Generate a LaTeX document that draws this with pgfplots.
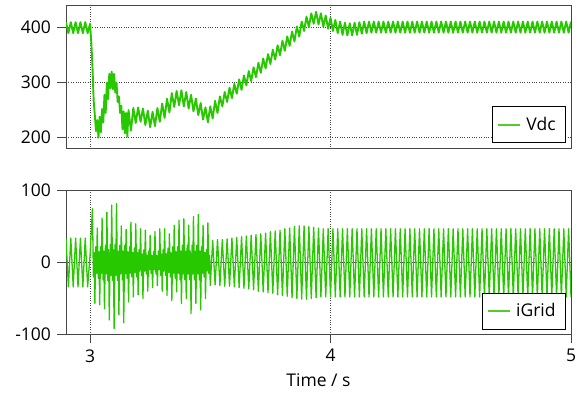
\documentclass[border=0pt]{standalone}
\usepackage{fontspec}
\setmainfont{Open Sans}
\usepackage{pgfplots}
\pgfplotsset{compat=1.18}
\definecolor{lg}{RGB}{40,200,0}
\definecolor{lgl}{RGB}{80,205,40}
\definecolor{ax}{RGB}{70,70,70}
\begin{document}
\fontsize{17.5}{21}\selectfont
\begin{tikzpicture}
\useasboundingbox (0pt,-394pt) rectangle (580pt,0pt);
\pgfplotsset{
  every axis/.append style={
    scale only axis, width=505pt, height=143.6pt, anchor=south west,
    xmin=2.9, xmax=5,
    axis line style={ax, line width=0.9pt},
    grid=major, grid style={ax, dotted, line width=0.9pt},
    tick align=outside, tick pos=left, major tick length=9pt,
    tick style={ax, line width=0.9pt},
    tick label style={font=\fontsize{17.5}{21}\selectfont},
    legend cell align=left,
    legend style={at={(1,0)}, anchor=south east, xshift=-5pt, yshift=5pt,
      draw=black, line width=0.8pt, inner xsep=5pt, inner ysep=8pt,
      nodes={inner xsep=5pt},
      font=\fontsize{17.5}{21}\selectfont},
    legend image code/.code={\draw[#1] (0pt,0pt) -- (22pt,0pt);},
  }
}
\begin{axis}[at={(66pt,-148.7pt)},
  ymin=180, ymax=441,
  ytick={200,300,400}, yticklabels={200,300,400},
  xtick={3,4,5}, xticklabels={}, xmajorticks=false, xmajorgrids=true,
  legend style={yshift=0.5pt}]
\addlegendimage{draw=lgl, solid, line width=2pt}
\addlegendentry{Vdc}
\addplot[lg, line width=1.9pt, line join=round, forget plot] coordinates {
(2.90,410)(2.91,390)(2.92,410)(2.93,390)(2.94,410)(2.95,390)(2.96,410)(2.97,390)(2.98,410)(2.99,390)(3.00,407)
(3.005,375)(3.01,330)(3.015,268)(3.02,240)(3.025,212)(3.03,232)(3.035,200)(3.04,238)(3.045,210)(3.05,252)(3.055,228)
(3.06,278)(3.065,245)(3.07,300)(3.075,270)(3.08,316)(3.085,290)(3.09,320)(3.095,288)(3.10,316)(3.105,282)(3.11,300)
(3.115,265)(3.12,275)(3.125,245)(3.13,258)(3.135,215)(3.14,248)(3.145,208)(3.15,245)(3.155,202)(3.16,250)
(3.17,213)(3.18,254)(3.19,227)(3.20,255)(3.21,229)(3.22,253)(3.23,223)(3.24,249)(3.25,219)(3.26,247)(3.27,221)
(3.28,254)(3.29,229)(3.30,262)(3.31,236)(3.32,271)(3.33,246)(3.34,281)(3.35,256)(3.36,285)(3.37,259)(3.38,286)
(3.39,257)(3.40,283)(3.41,253)(3.42,278)(3.43,248)(3.44,271)(3.45,241)(3.46,263)(3.47,233)(3.48,255)(3.49,228)
(3.50,257)(3.51,235)(3.52,267)(3.53,245)(3.54,275)(3.55,257)
(3.56,283)(3.57,265)(3.58,291)(3.59,272)(3.60,298)(3.61,280)(3.62,306)(3.63,287)(3.64,313)(3.65,295)(3.66,321)
(3.67,303)(3.68,328)(3.69,310)(3.70,336)(3.71,318)(3.72,344)(3.73,326)(3.74,352)(3.75,334)(3.76,360)(3.77,342)
(3.78,368)(3.79,350)(3.80,376)(3.81,358)(3.82,384)(3.83,367)(3.84,393)(3.85,375)(3.86,402)(3.87,384)(3.88,411)
(3.89,394)(3.90,420)(3.91,401)(3.92,426)(3.93,407)(3.94,429)(3.95,406)(3.96,426)(3.97,402)(3.98,422)(3.99,398)
(4.00,418)(4.01,394)(4.02,414)(4.03,390)(4.04,411)(4.05,387)(4.06,409)(4.07,386)(4.08,408)(4.09,386)(4.10,409)
(4.11,387)(4.12,410)(4.13,389)(4.14,411)(4.15,390)
(4.16,411)(4.17,391)(4.18,411)(4.19,391)(4.20,411)(4.21,391)(4.22,411)(4.23,391)(4.24,411)(4.25,391)
(4.26,411)(4.27,391)(4.28,411)(4.29,391)(4.30,411)(4.31,391)(4.32,411)(4.33,391)(4.34,411)(4.35,391)
(4.36,411)(4.37,391)(4.38,411)(4.39,391)(4.40,411)(4.41,391)(4.42,411)(4.43,391)(4.44,411)(4.45,391)
(4.46,411)(4.47,391)(4.48,411)(4.49,391)(4.50,411)(4.51,391)(4.52,411)(4.53,391)(4.54,411)(4.55,391)
(4.56,411)(4.57,391)(4.58,411)(4.59,391)(4.60,411)(4.61,391)(4.62,411)(4.63,391)(4.64,411)(4.65,391)
(4.66,411)(4.67,391)(4.68,411)(4.69,391)(4.70,411)(4.71,391)(4.72,411)(4.73,391)(4.74,411)(4.75,391)
(4.76,411)(4.77,391)(4.78,411)(4.79,391)(4.80,411)(4.81,391)(4.82,411)(4.83,391)(4.84,411)(4.85,391)
(4.86,411)(4.87,391)(4.88,411)(4.89,391)(4.90,411)(4.91,391)(4.92,411)(4.93,391)(4.94,411)(4.95,391)
(4.96,411)(4.97,391)(4.98,411)(4.99,391)(5.00,411)
};
\end{axis}
\begin{axis}[at={(66pt,-334.3pt)},
  ymin=-100, ymax=100,
  ytick={-100,0,100}, yticklabels={-100,0,100},
  xtick={3,4,5}, xticklabels={3,4,5},
  xlabel={Time / s}]
\addlegendimage{draw=lgl, solid, line width=1.6pt}
\addlegendentry{iGrid}
\addplot[lg, line width=1.3pt, line join=round, forget plot] coordinates {
(2.90,34)(2.91,-34)(2.92,34)(2.93,-34)(2.94,34)(2.95,-34)(2.96,34)(2.97,-34)(2.98,34)(2.99,-34)(3.00,10)
(3.01,75)(3.014,-20)(3.017,14)(3.02,-57)(3.024,22)(3.027,-15)(3.03,48)(3.034,-22)(3.037,15)(3.04,-59)
(3.044,22)(3.047,-15)(3.05,62)(3.054,-24)(3.057,16)(3.06,-64)(3.064,24)(3.067,-16)(3.07,70)(3.074,-25)
(3.077,18)(3.08,-80)(3.084,25)(3.087,-18)(3.09,80)(3.094,-25)(3.097,18)(3.10,-92)(3.104,25)(3.107,-18)
(3.11,82)(3.114,-25)(3.117,16)(3.12,-73)(3.124,24)(3.127,-16)(3.13,51)(3.134,-24)(3.137,16)(3.14,-84)
(3.144,24)(3.147,-16)(3.15,46)(3.154,-22)(3.157,15)(3.16,-55)(3.164,22)(3.167,-15)(3.17,56)(3.174,-20)
(3.177,14)(3.18,-48)(3.184,20)(3.187,-14)(3.19,54)(3.194,-20)(3.197,14)(3.20,-45)(3.204,18)(3.207,-12)
(3.21,47)(3.214,-18)(3.217,12)(3.22,-50)(3.224,18)(3.227,-12)(3.23,45)(3.234,-16)(3.237,10)(3.24,-40)
(3.244,16)(3.247,-10)(3.25,38)(3.254,-15)(3.257,10)(3.26,-35)(3.264,15)(3.267,-10)(3.27,43)(3.274,-16)
(3.277,10)(3.28,-32)(3.284,16)(3.287,-10)(3.29,47)(3.294,-18)(3.297,12)(3.30,-40)(3.304,18)(3.307,-12)
(3.31,47)(3.314,-18)(3.317,12)(3.32,-46)(3.324,20)(3.327,-14)(3.33,40)(3.334,-20)(3.337,14)(3.34,-53)
(3.344,22)(3.347,-15)(3.35,52)(3.354,-22)(3.357,15)(3.36,-41)(3.364,22)(3.367,-15)(3.37,59)(3.374,-24)
(3.377,16)(3.38,-57)(3.384,24)(3.387,-16)(3.39,61)(3.394,-24)(3.397,16)(3.40,-50)(3.404,24)(3.407,-16)
(3.41,52)(3.414,-24)(3.417,16)(3.42,-71)(3.424,24)(3.427,-16)(3.43,64)(3.434,-24)(3.437,16)(3.44,-57)
(3.444,24)(3.447,-16)(3.45,67)(3.454,-24)(3.457,16)(3.46,-66)(3.464,22)(3.467,-15)(3.47,52)(3.474,-20)
(3.477,14)(3.48,-50)(3.484,18)(3.487,-12)(3.49,55)(3.494,-15)(3.497,10)(3.50,-32)
(3.51,31)(3.52,-31)(3.53,32)(3.54,-32)(3.55,32)(3.56,-33)(3.57,33)(3.58,-33)(3.59,34)(3.60,-34)
(3.61,35)(3.62,-35)(3.63,36)(3.64,-36)(3.65,37)(3.66,-37)(3.67,38)(3.68,-38)(3.69,39)(3.70,-40)
(3.71,40)(3.72,-41)(3.73,41)(3.74,-42)(3.75,43)(3.76,-43)(3.77,44)(3.78,-45)(3.79,45)(3.80,-46)
(3.81,47)(3.82,-47)(3.83,48)(3.84,-49)(3.85,50)(3.86,-50)(3.87,51)(3.88,-51)(3.89,51)(3.90,-51)
(3.91,50)(3.92,-50)(3.93,49)(3.94,-49)(3.95,48)(3.96,-48)
(3.97,47)(3.98,-48)(3.99,47)(4.00,-48)(4.01,47)(4.02,-48)(4.03,47)(4.04,-48)(4.05,47)(4.06,-48)
(4.07,47)(4.08,-48)(4.09,47)(4.10,-48)(4.11,47)(4.12,-48)(4.13,47)(4.14,-48)(4.15,47)(4.16,-48)
(4.17,47)(4.18,-48)(4.19,47)(4.20,-48)(4.21,47)(4.22,-48)(4.23,47)(4.24,-48)(4.25,47)(4.26,-48)
(4.27,47)(4.28,-48)(4.29,47)(4.30,-48)(4.31,47)(4.32,-48)(4.33,47)(4.34,-48)(4.35,47)(4.36,-48)
(4.37,47)(4.38,-48)(4.39,47)(4.40,-48)(4.41,47)(4.42,-48)(4.43,47)(4.44,-48)(4.45,47)(4.46,-48)
(4.47,47)(4.48,-48)(4.49,47)(4.50,-48)(4.51,47)(4.52,-48)(4.53,47)(4.54,-48)(4.55,47)(4.56,-48)
(4.57,47)(4.58,-48)(4.59,47)(4.60,-48)(4.61,47)(4.62,-48)(4.63,47)(4.64,-48)(4.65,47)(4.66,-48)
(4.67,47)(4.68,-48)(4.69,47)(4.70,-48)(4.71,47)(4.72,-48)(4.73,47)(4.74,-48)(4.75,47)(4.76,-48)
(4.77,47)(4.78,-48)(4.79,47)(4.80,-48)(4.81,47)(4.82,-48)(4.83,47)(4.84,-48)(4.85,47)(4.86,-48)
(4.87,47)(4.88,-48)(4.89,47)(4.90,-48)(4.91,47)(4.92,-48)(4.93,47)(4.94,-48)(4.95,47)(4.96,-48)
(4.97,47)(4.98,-48)(4.99,47)(5.00,-48)
};
\end{axis}
\end{tikzpicture}
\end{document}
